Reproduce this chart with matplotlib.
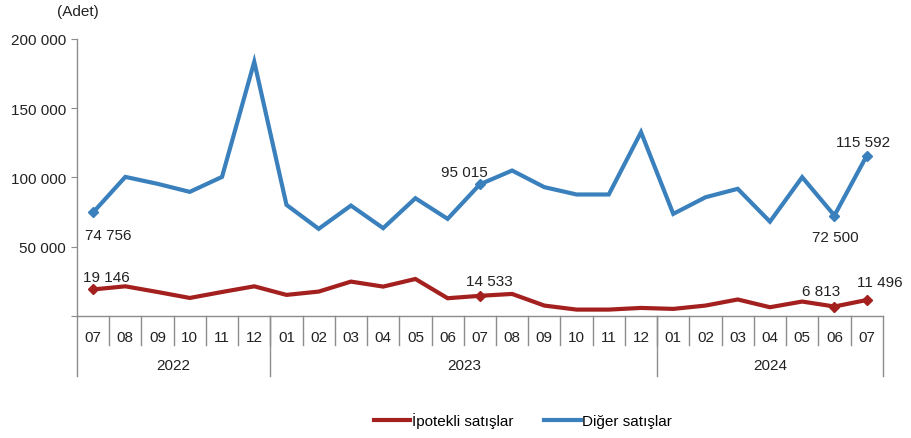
import numpy as np
import matplotlib
matplotlib.use('Agg')
import matplotlib.pyplot as plt
from matplotlib.ticker import FuncFormatter

plt.rcParams['font.family'] = ['Liberation Sans', 'DejaVu Sans']

months = ['07', '08', '09', '10', '11', '12',
          '01', '02', '03', '04', '05', '06', '07', '08', '09', '10', '11', '12',
          '01', '02', '03', '04', '05', '06', '07']
years = ['2022', '2023', '2024']
year_len = [6, 12, 7]

ipotekli = [19146, 21400, 17300, 13000, 17300, 21400,
            15200, 17600, 24800, 21200, 26700, 12800, 14533, 15900, 7500, 4600, 4600, 5800,
            5100, 7500, 11900, 6300, 10400, 6813, 11496]
diger = [74756, 100400, 95400, 89600, 100400, 183500,
         80200, 62900, 79700, 63400, 85000, 70100, 95015, 105000, 93000, 87700, 87700, 132700,
         73700, 85700, 91800, 68100, 100200, 72500, 115592]

# points that get a value label
lab_idx = [0, 12, 23, 24]

c_red = '#A3201F'
c_blue = '#3A80BD'
c_axis = '#8C8C8C'
c_txt = '#222222'
fs = 11

def fmt(v):
    return '{:,}'.format(int(v)).replace(',', ' ')

fig = plt.figure(figsize=(9.11, 4.39), dpi=100)
ax = fig.add_axes([0.0845, 0.278, 0.8845, 0.631])

x = np.arange(len(months))
ax.plot(x, ipotekli, c=c_red, lw=3, solid_joinstyle='miter', label='İpotekli satışlar')
ax.plot(x, diger, c=c_blue, lw=3, solid_joinstyle='miter', label='Diğer satışlar')
ax.plot(x[lab_idx], np.array(ipotekli)[lab_idx], ls='none', marker='D', ms=5, c=c_red)
ax.plot(x[lab_idx], np.array(diger)[lab_idx], ls='none', marker='D', ms=5, c=c_blue)

# value labels (offsets in points)
offs_d = {0: (-6, -19), 12: (-28, 6), 23: (-16, -18), 24: (-22, 7)}
offs_i = {0: (-7, 6), 12: (-10, 8), 23: (-23, 8), 24: (-7, 10)}
for i, (dx, dy) in offs_d.items():
    ax.annotate(fmt(diger[i]), (x[i], diger[i]), xytext=(dx, dy), textcoords='offset points', fontsize=fs, color=c_txt)
for i, (dx, dy) in offs_i.items():
    ax.annotate(fmt(ipotekli[i]), (x[i], ipotekli[i]), xytext=(dx, dy), textcoords='offset points', fontsize=fs, color=c_txt)

ax.set_xlim(-0.5, len(months) - 0.5)
ax.set_ylim(0, 200000)
ax.set_yticks([0, 50000, 100000, 150000, 200000])
ax.yaxis.set_major_formatter(FuncFormatter(lambda v, p: '' if v == 0 else fmt(v)))
ax.tick_params(axis='y', length=4, color=c_axis, labelsize=fs, labelcolor=c_txt, pad=4)
ax.set_xticks([])
for s in ['top', 'right']:
    ax.spines[s].set_visible(False)
for s in ['left', 'bottom']:
    ax.spines[s].set_color(c_axis)
    ax.spines[s].set_linewidth(1)

ax.text(-0.025, 1.10, '(Adet)', transform=ax.transAxes, fontsize=fs, color=c_txt, ha='left', va='center')

# category axis with separators
trans = ax.get_xaxis_transform()
for i, m in enumerate(months):
    ax.text(i, -0.075, m, transform=trans, ha='center', va='center', fontsize=fs, color=c_txt)
for i in range(1, len(months)):
    ax.plot([i - 0.5, i - 0.5], [0, -0.105], transform=trans, c=c_axis, lw=1, clip_on=False)
bounds = np.concatenate([[0], np.cumsum(year_len)])
for b in bounds:
    ax.plot([b - 0.5, b - 0.5], [0, -0.215], transform=trans, c=c_axis, lw=1, clip_on=False)
for k, yr in enumerate(years):
    mid = (bounds[k] + bounds[k + 1] - 1) / 2
    ax.text(mid, -0.178, yr, transform=trans, ha='center', va='center', fontsize=fs, color=c_txt)

fig.legend(loc='center', bbox_to_anchor=(0.574, 0.04), ncol=2, frameon=False, fontsize=fs,
           handlelength=2.4, handletextpad=0.1, columnspacing=2.0)

fig.savefig('out.png', dpi=100)
plt.close()
